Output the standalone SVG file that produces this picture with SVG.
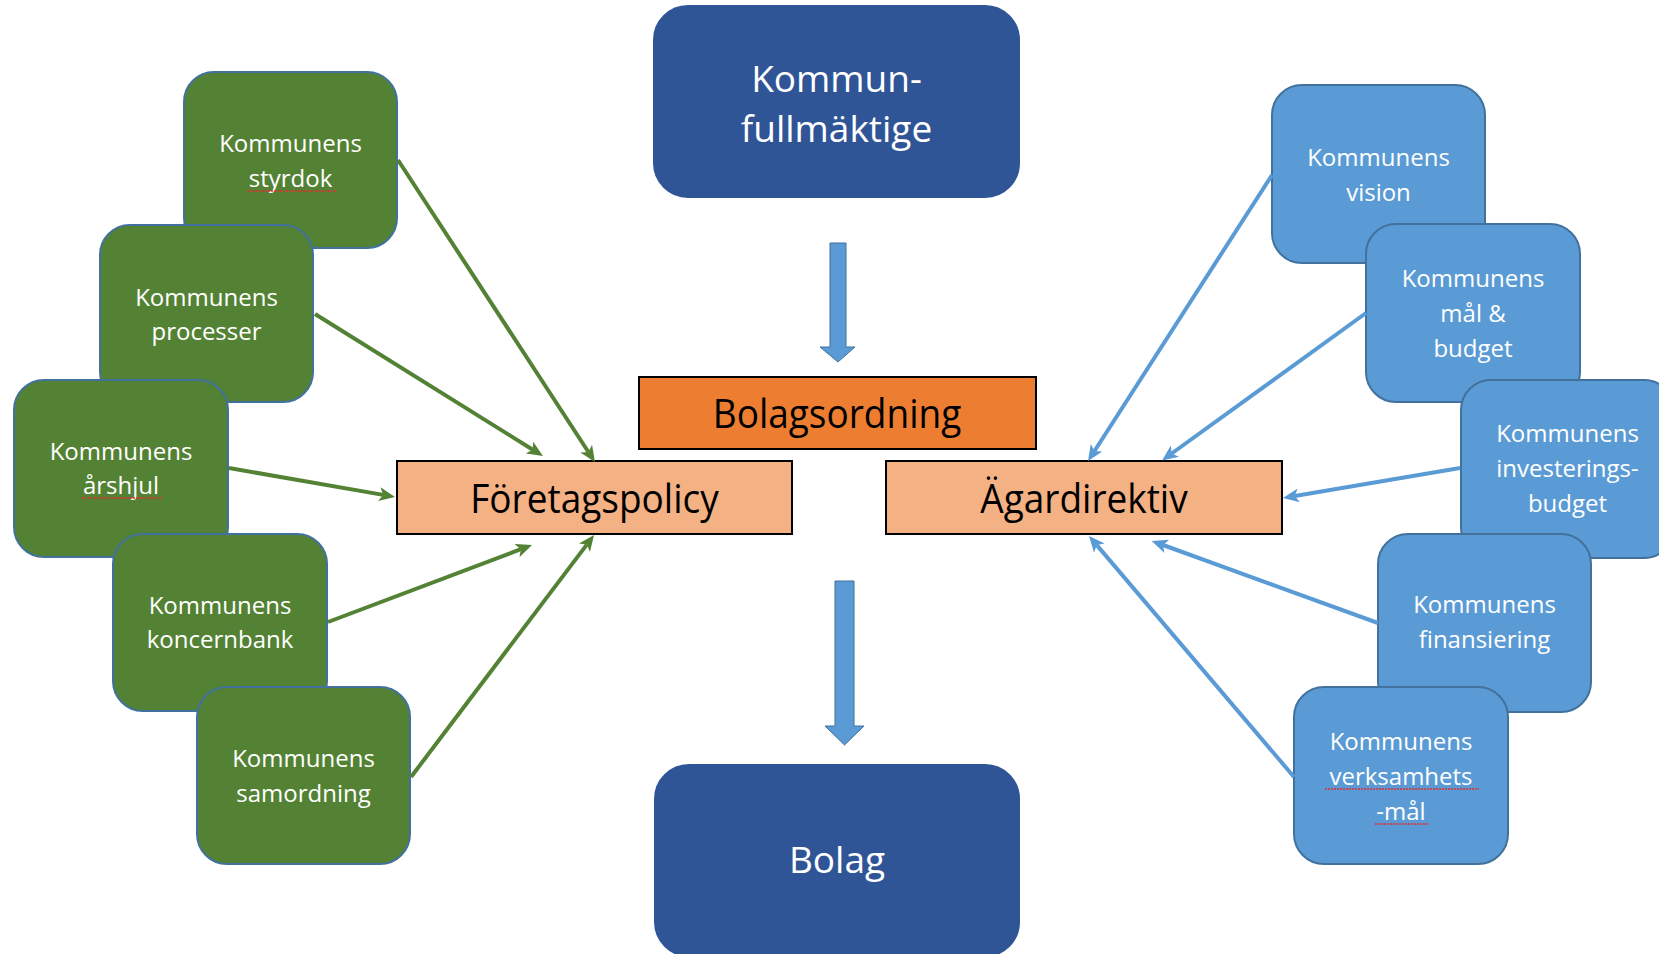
<svg xmlns="http://www.w3.org/2000/svg" width="1659" height="954" viewBox="0 0 1659 954">
<style>
  .g rect{fill:#548235;stroke:#41719C;stroke-width:2}
  .b rect{fill:#5B9BD5;stroke:#41719C;stroke-width:2}
  .d rect{fill:#2F5597;stroke:#2F5597;stroke-width:2}
  .st{font-family:"Open Sans","Liberation Sans",sans-serif;font-size:24px;fill:#ffffff;text-anchor:middle}
  .bt{font-family:"Open Sans","Liberation Sans",sans-serif;font-size:37px;fill:#ffffff;text-anchor:middle}
  .ct{font-family:"Open Sans","Liberation Sans",sans-serif;font-size:37px;fill:#000000;text-anchor:middle}
  .sq{stroke:#E03131;stroke-width:1.5;stroke-dasharray:2 1}
  .gl{stroke:#548235;stroke-width:4;fill:none;marker-end:url(#ag)}
  .bl{stroke:#5B9BD5;stroke-width:4;fill:none;marker-end:url(#ab)}
  .blk{fill:#5B9BD5;stroke:#41719C;stroke-width:1}
</style>
<defs>
  <marker id="ag" markerUnits="userSpaceOnUse" markerWidth="16" markerHeight="14" refX="4" refY="7" orient="auto">
    <path d="M0,0 L16,7 L0,14 L4,7 Z" fill="#548235"/>
  </marker>
  <marker id="ab" markerUnits="userSpaceOnUse" markerWidth="16" markerHeight="14" refX="4" refY="7" orient="auto">
    <path d="M0,0 L16,7 L0,14 L4,7 Z" fill="#5B9BD5"/>
  </marker>
</defs>
<rect width="1659" height="954" fill="#ffffff"/>

<g id="kommunfullmaktige" class="d">
  <rect x="654" y="6" width="365" height="191" rx="34"/>
  <text class="bt" x="836.5" y="92">Kommun-</text>
  <text class="bt" x="836.5" y="142">fullmäktige</text>
</g>
<g id="bolag" class="d">
  <rect x="655" y="765" width="364" height="191" rx="34"/>
  <text class="bt" x="837" y="873">Bolag</text>
</g>

<g id="bolagsordning">
  <rect x="639" y="377" width="397" height="72" fill="#ED7D31" stroke="#000000" stroke-width="2"/>
  <text class="ct" x="837" y="428" transform="translate(0,428) scale(1,1.1) translate(0,-428)">Bolagsordning</text>
</g>
<g id="foretagspolicy">
  <rect x="397" y="461" width="395" height="73" fill="#F4B183" stroke="#000000" stroke-width="2"/>
  <text class="ct" x="594.5" y="513" transform="translate(0,513) scale(1,1.1) translate(0,-513)">Företagspolicy</text>
</g>
<g id="agardirektiv">
  <rect x="886" y="461" width="396" height="73" fill="#F4B183" stroke="#000000" stroke-width="2"/>
  <text class="ct" x="1084" y="513" transform="translate(0,513) scale(1,1.1) translate(0,-513)">Ägardirektiv</text>
</g>

<g id="styrdok" class="g">
  <rect x="184" y="72" width="213" height="176" rx="30"/>
  <text class="st" x="290.5" y="152">Kommunens</text>
  <text class="st" x="290.5" y="187">styrdok</text>
  <line class="sq" x1="247" y1="191" x2="337" y2="191"/>
</g>
<g id="processer" class="g">
  <rect x="100" y="225" width="213" height="177" rx="30"/>
  <text class="st" x="206.5" y="306">Kommunens</text>
  <text class="st" x="206.5" y="340">processer</text>
</g>
<g id="arshjul" class="g">
  <rect x="14" y="380" width="214" height="177" rx="30"/>
  <text class="st" x="121" y="460">Kommunens</text>
  <text class="st" x="121" y="494">årshjul</text>
  <line class="sq" x1="82" y1="498" x2="163" y2="498"/>
</g>
<g id="koncernbank" class="g">
  <rect x="113" y="534" width="214" height="177" rx="30"/>
  <text class="st" x="220" y="614">Kommunens</text>
  <text class="st" x="220" y="648">koncernbank</text>
</g>
<g id="samordning" class="g">
  <rect x="197" y="687" width="213" height="177" rx="30"/>
  <text class="st" x="303.5" y="767">Kommunens</text>
  <text class="st" x="303.5" y="802">samordning</text>
</g>

<g id="vision" class="b">
  <rect x="1272" y="85" width="213" height="178" rx="30"/>
  <text class="st" x="1378.5" y="166">Kommunens</text>
  <text class="st" x="1378.5" y="201">vision</text>
</g>
<g id="malbudget" class="b">
  <rect x="1366" y="224" width="214" height="178" rx="30"/>
  <text class="st" x="1473" y="287">Kommunens</text>
  <text class="st" x="1473" y="322">mål &amp;</text>
  <text class="st" x="1473" y="357">budget</text>
</g>
<g id="investeringsbudget" class="b">
  <rect x="1461" y="380" width="213" height="178" rx="30"/>
  <text class="st" x="1567.5" y="442">Kommunens</text>
  <text class="st" x="1567.5" y="477">investerings-</text>
  <text class="st" x="1567.5" y="512">budget</text>
</g>
<g id="finansiering" class="b">
  <rect x="1378" y="534" width="213" height="178" rx="30"/>
  <text class="st" x="1484.5" y="613">Kommunens</text>
  <text class="st" x="1484.5" y="648">finansiering</text>
</g>
<g id="verksamhetsmal" class="b">
  <rect x="1294" y="687" width="214" height="177" rx="30"/>
  <text class="st" x="1401" y="750">Kommunens</text>
  <text class="st" x="1401" y="785">verksamhets</text>
  <text class="st" x="1401" y="820">-mål</text>
  <line class="sq" x1="1325" y1="789" x2="1479" y2="789"/>
  <line class="sq" x1="1375" y1="824" x2="1428" y2="824"/>
</g>

<g id="connectors">
  <path class="blk" d="M830,243 H846 V347 H855 L838,362 L820,347 H830 Z"/>
  <path class="blk" d="M835,581 H854 V726 H864 L844.5,745 L825,726 H835 Z"/>

  <line class="gl" x1="398" y1="160" x2="588.4" y2="452"/>
  <line class="gl" x1="315" y1="314" x2="532.8" y2="449.7"/>
  <line class="gl" x1="229" y1="468" x2="383.2" y2="494.9"/>
  <line class="gl" x1="328" y1="622" x2="520.8" y2="549.2"/>
  <line class="gl" x1="411" y1="777" x2="586.8" y2="544.6"/>

  <line class="bl" x1="1272" y1="175" x2="1094.5" y2="451"/>
  <line class="bl" x1="1366" y1="313" x2="1171.7" y2="453.5"/>
  <line class="bl" x1="1460" y1="468" x2="1294.8" y2="496"/>
  <line class="bl" x1="1378" y1="623" x2="1163" y2="545"/>
  <line class="bl" x1="1294" y1="777" x2="1096.8" y2="545.1"/>
</g>
</svg>
